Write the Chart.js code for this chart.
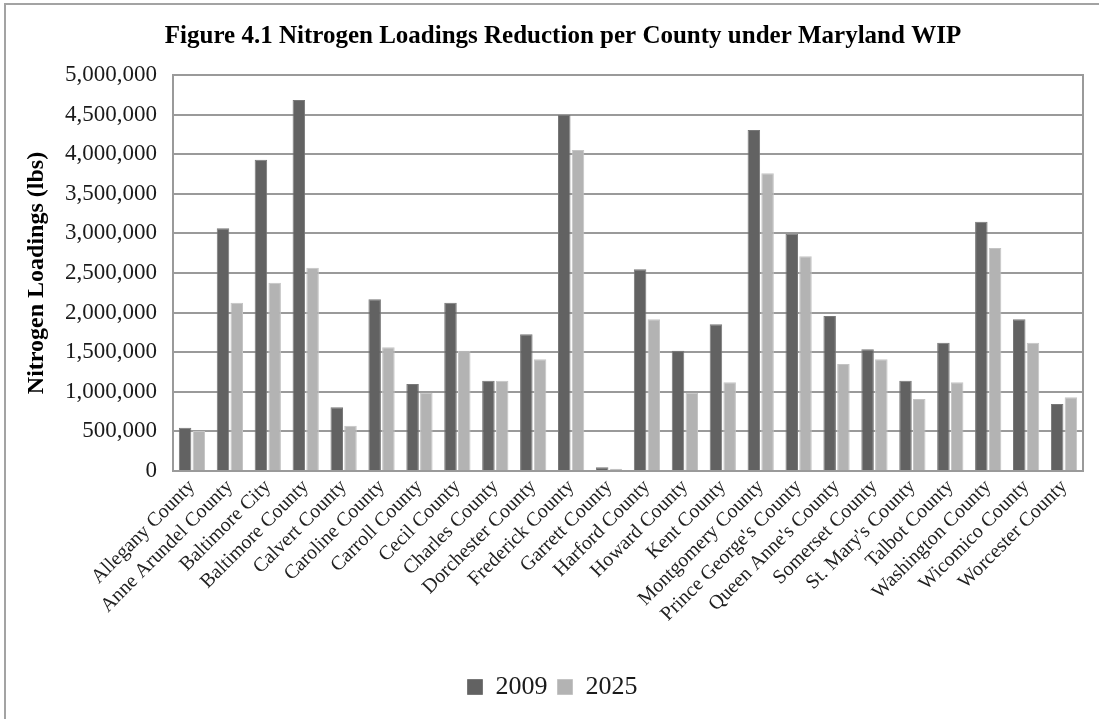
<!DOCTYPE html>
<html>
<head>
<meta charset="utf-8">
<title>Nitrogen Loadings Reduction per County</title>
<script src="https://cdn.jsdelivr.net/npm/chart.js@4.4.0/dist/chart.umd.min.js"></script>
<style>
  html, body { margin: 0; padding: 0; background: #fff; }
  #wrap { width: 1099px; height: 719px; }
</style>
</head>
<body>
<div id="wrap"><canvas id="nitrogenChart" width="1099" height="719"></canvas></div>
<script>
// county names along the x axis
const counties = [
    "Allegany County", "Anne Arundel County", "Baltimore City", "Baltimore County",
    "Calvert County", "Caroline County", "Carroll County", "Cecil County",
    "Charles County", "Dorchester County", "Frederick County", "Garrett County",
    "Harford County", "Howard County", "Kent County", "Montgomery County",
    "Prince George's County", "Queen Anne's County", "Somerset County", "St. Mary's County",
    "Talbot County", "Washington County", "Wicomico County", "Worcester County"
];

// nitrogen loadings in lbs
const loads2009 = [
    547000, 3064000, 3931000, 4684000, 804000, 2168000, 1098000, 2125000,
    1140000, 1726000, 4495000, 46000, 2546000, 1519000, 1852000, 4305000,
    2996000, 1957000, 1536000, 1140000, 1620000, 3148000, 1915000, 846000
];
const loads2025 = [
    505000, 2125000, 2378000, 2567000, 572000, 1561000, 989000, 1519000,
    1140000, 1410000, 4053000, 29000, 1915000, 989000, 1120000, 3758000,
    2710000, 1351000, 1410000, 909000, 1120000, 2816000, 1620000, 930000
];

const seriesNames = ["2009", "2025"];
const yMax = 5000000;
const yStep = 500000;

const chartTitle = "Figure 4.1 Nitrogen Loadings Reduction per County under Maryland WIP";
const serif = "'Liberation Serif', 'Times New Roman', serif";

// white page, outer frame, box round the plot and the title on top
const chartFrame = {
    id: "chartFrame",
    beforeDraw(chart) {
        const ctx = chart.ctx;
        ctx.save();
        ctx.fillStyle = "#fff";
        ctx.fillRect(0, 0, chart.width, chart.height);
        ctx.strokeStyle = "#a3a3a3";
        ctx.lineWidth = 2;
        ctx.strokeRect(5, 4, chart.width + 10, chart.height + 10);
        ctx.restore();
    },
    beforeDatasetsDraw(chart) {
        const a = chart.chartArea;
        const ctx = chart.ctx;
        ctx.save();
        ctx.strokeStyle = "#9a9a9a";
        ctx.lineWidth = 2;
        ctx.strokeRect(a.left, a.top, a.right - a.left, a.bottom - a.top);
        ctx.restore();
    },
    afterDraw(chart, args, opts) {
        const ctx = chart.ctx;
        ctx.save();
        ctx.fillStyle = "#000";
        ctx.font = "bold 25px " + serif;
        ctx.textAlign = "center";
        ctx.textBaseline = "alphabetic";
        ctx.fillText(opts.text, opts.x, opts.y);
        ctx.restore();
    }
};

const ctx = document.getElementById("nitrogenChart").getContext("2d");
const nitrogenChart = new Chart(ctx, {
    type: "bar",
    data: {
        labels: counties,
        datasets: [
            {
                label: seriesNames[0],
                data: loads2009,
                backgroundColor: "#626262",
                borderColor: "#787878",
                borderWidth: 1,
                categoryPercentage: 0.725,
                barPercentage: 0.91,
            },
            {
                label: seriesNames[1],
                data: loads2025,
                backgroundColor: "#b3b3b3",
                borderColor: "#c4c4c4",
                borderWidth: 1,
                categoryPercentage: 0.725,
                barPercentage: 0.91,
            },
        ],
    },
    options: {
        responsive: false,
        animation: false,
        layout: { padding: { left: 22, right: 16, top: 75, bottom: 9 } },
        scales: {
            x: {
                grid: { display: false, drawTicks: false },
                border: { color: "#9a9a9a", width: 2 },
                ticks: {
                    autoSkip: false,
                    minRotation: 45,
                    maxRotation: 45,
                    padding: 4,
                    color: "#222",
                    font: { family: serif, size: 20 },
                },
                afterFit(scale) { scale.height = 193; },
            },
            y: {
                min: 0,
                max: yMax,
                grid: { color: "#9a9a9a", lineWidth: 2, drawTicks: false },
                border: { color: "#9a9a9a", width: 2 },
                ticks: {
                    stepSize: yStep,
                    padding: 16,
                    color: "#1a1a1a",
                    font: { family: serif, size: 23 },
                    callback: (v) => v.toLocaleString("en-US"),
                },
                title: {
                    display: true,
                    text: "Nitrogen Loadings (lbs)",
                    color: "#000",
                    font: { family: serif, size: 24, weight: "bold" },
                    padding: { top: 0, bottom: 0 },
                },
                afterFit(scale) { scale.width = 151; },
            },
        },
        plugins: {
            legend: {
                position: "bottom",
                labels: {
                    boxWidth: 15,
                    boxHeight: 15,
                    padding: 10,
                    color: "#1a1a1a",
                    font: { family: serif, size: 26 },
                },
            },
            tooltip: { enabled: false },
            chartFrame: { text: chartTitle, x: 563, y: 43 },
        },
    },
    plugins: [chartFrame],
});
</script>
</body>
</html>
